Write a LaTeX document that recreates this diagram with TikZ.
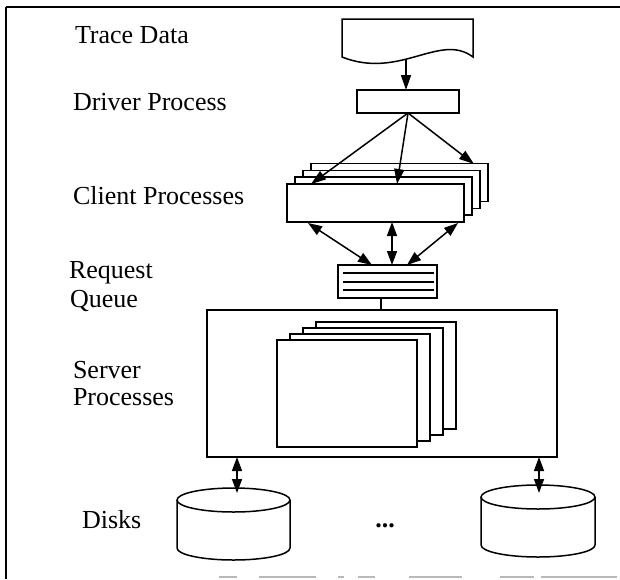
\documentclass[tikz,border=0pt]{standalone}
\usepackage{fontspec}
\setmainfont{Liberation Serif}
\usetikzlibrary{arrows.meta,calc}
\begin{document}
\begin{tikzpicture}[x=1pt,y=-1pt,
  every node/.style={inner sep=0pt,outer sep=0pt},
  lbl/.style={anchor=base west,font=\fontsize{26}{28}\selectfont},
  box/.style={draw,fill=white,line width=1.5pt},
  conn/.style={line width=1.5pt,-{Triangle[length=15pt,width=10pt]}},
  dconn/.style={line width=1.5pt,{Triangle[length=14pt,width=10pt]}-{Triangle[length=14pt,width=10pt]}},
  plain/.style={line width=1.5pt},
  scanline/.style={gray!55,line width=1.2pt}]
\useasboundingbox (0,0) rectangle (620,579);
% frame
\draw[line width=2pt] (6,7) -- (620,7);
\draw[line width=1.2pt] (6,7) -- (6,579);
\draw[scanline] (219,577)--(237,577) (259,577)--(316,577) (338,577)--(344,577)
  (358,577)--(375,577) (409,577)--(462,577) (500,577)--(534,577) (541,577)--(617,577);
% labels
\node[lbl] (ltrace) at (75,43) {Trace Data};
\node[lbl] (ldriver) at (73,110) {Driver Process};
\node[lbl] (lclient) at (73,204) {Client Processes};
\node[lbl] (lreq) at (69,278) {Request};
\node[lbl] (lqueue) at (70,307) {Queue};
\node[lbl] (lserver) at (73,378) {Server};
\node[lbl] (lproc) at (73,405) {Processes};
\node[lbl] (ldisks) at (82,528) {Disks};
% trace data document
\draw[plain,fill=white] (342,19) -- (473,19) -- (473,57)
  .. controls (440,32) and (400,80) .. (342,57) -- cycle;
\coordinate (tdbot) at (406,59);
% driver
\node[box,minimum width=102,minimum height=23] (drv) at (408,101.5) {};
\draw[conn] (tdbot) -- (tdbot |- drv.north);
% client processes stack
\node[box,minimum width=177,minimum height=38] (c4) at (399.5,182.5) {};
\node[box,minimum width=177,minimum height=38] (c3) at (391.5,189.5) {};
\node[box,minimum width=177,minimum height=38] (c2) at (383.5,196) {};
\node[box,minimum width=177,minimum height=38] (cf) at (375.5,203) {};
\coordinate (da) at (311,184);
\coordinate (db) at (397,184);
\coordinate (dc) at (474,164);
\coordinate (ds) at (408,113);
\draw[conn] (ds) -- (da);
\draw[conn] (ds) -- (db);
\draw[conn] (ds) -- (dc);
% request queue
\node[box,minimum width=99,minimum height=33] (q) at (387.5,281.5) {};
\draw[line width=1.2pt] (343,273) -- (434,273) (343,282) -- (434,282) (343,290) -- (434,290);
\coordinate (ca) at (308,223);
\coordinate (cb) at (392,222);
\coordinate (cc) at (458,223);
\coordinate (qa) at (372,265);
\coordinate (qb) at (392,265);
\coordinate (qc) at (407,265);
\draw[dconn] (ca) -- (qa);
\draw[dconn] (cb) -- (qb);
\draw[dconn] (cc) -- (qc);
% server box
\node[box,minimum width=350,minimum height=147] (srv) at (382,383.5) {};
\coordinate (qs) at (381,298);
\draw[plain] (qs) -- (qs |- srv.north);
\node[box,minimum width=140,minimum height=107] (s4) at (386,375.5) {};
\node[box,minimum width=140,minimum height=107] (s3) at (373,381.5) {};
\node[box,minimum width=140,minimum height=107] (s2) at (360,387.5) {};
\node[box,minimum width=140,minimum height=107] (sf) at (347,393.5) {};
% disks
\draw[plain] (177,500) -- (177,548) arc[start angle=180,end angle=0,x radius=56.5,y radius=12] -- (290,500);
\draw[plain] (233.5,500) ellipse[x radius=56.5,y radius=12];
\draw[plain] (481,497) -- (481,545) arc[start angle=180,end angle=0,x radius=57,y radius=12] -- (595,497);
\draw[plain] (538,497) ellipse[x radius=57,y radius=12];
\coordinate (d1) at (237,493);
\coordinate (d2) at (539,493);
\draw[dconn] (d1 |- srv.south) -- (d1);
\draw[dconn] (d2 |- srv.south) -- (d2);
\node[anchor=base,font=\fontsize{26}{28}\selectfont\bfseries] (dots) at (385,527) {...};
\end{tikzpicture}
\end{document}
